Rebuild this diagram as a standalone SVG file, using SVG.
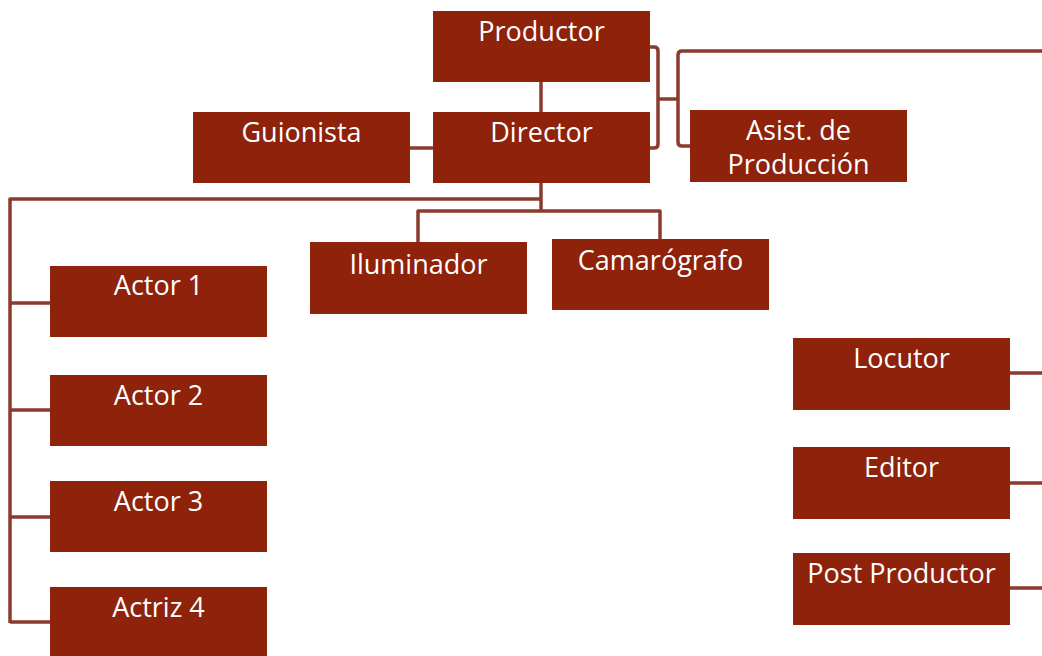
<svg xmlns="http://www.w3.org/2000/svg" width="1042" height="656" viewBox="0 0 1042 656">
<style>
.box{fill:#8E220B}
.t{font-family:"Open Sans","Noto Sans","DejaVu Sans",sans-serif;font-size:27px;fill:#ffffff;text-anchor:middle}
.c{fill:none;stroke:#8A3B2E;stroke-width:3.5;stroke-linejoin:round}
</style>
<rect width="1042" height="656" fill="#ffffff"/>
<g id="connectors">
<path class="c" d="M541 82V112"/>
<path class="c" d="M410 148H433"/>
<path class="c" d="M541 183V211"/>
<path class="c" d="M541 199H10V623"/>
<path class="c" d="M10 303H50M10 410H50M10 517H50M10 622H50"/>
<path class="c" d="M418 242V211H660V239"/>
<path class="c" d="M650 47H654Q658 47 658 51V144Q658 148 654 148H650M658 99H678"/>
<path class="c" d="M1042 51H682Q678 51 678 55V142Q678 146 682 146H690"/>
<path class="c" d="M1010 373H1042M1010 483H1042M1010 588H1042"/>
</g>
<g id="productor"><rect class="box" x="433" y="11" width="217" height="71"/><text class="t" x="541.5" y="41">Productor</text></g>
<g id="director"><rect class="box" x="433" y="112" width="217" height="71"/><text class="t" x="541.5" y="142">Director</text></g>
<g id="guionista"><rect class="box" x="193" y="112" width="217" height="71"/><text class="t" x="301.5" y="142">Guionista</text></g>
<g id="asistente"><rect class="box" x="690" y="110" width="217" height="72"/><text class="t" x="798.5" y="140">Asist. de</text><text class="t" x="798.5" y="174">Producción</text></g>
<g id="iluminador"><rect class="box" x="310" y="242" width="217" height="72"/><text class="t" x="418.5" y="274">Iluminador</text></g>
<g id="camarografo"><rect class="box" x="552" y="239" width="217" height="71"/><text class="t" x="660.5" y="270">Camarógrafo</text></g>
<g id="actor1"><rect class="box" x="50" y="266" width="217" height="71"/><text class="t" x="158.5" y="295">Actor 1</text></g>
<g id="actor2"><rect class="box" x="50" y="375" width="217" height="71"/><text class="t" x="158.5" y="405">Actor 2</text></g>
<g id="actor3"><rect class="box" x="50" y="481" width="217" height="71"/><text class="t" x="158.5" y="511">Actor 3</text></g>
<g id="actriz4"><rect class="box" x="50" y="587" width="217" height="71"/><text class="t" x="158.5" y="617">Actriz 4</text></g>
<g id="locutor"><rect class="box" x="793" y="338" width="217" height="72"/><text class="t" x="901.5" y="368">Locutor</text></g>
<g id="editor"><rect class="box" x="793" y="447" width="217" height="72"/><text class="t" x="901.5" y="477">Editor</text></g>
<g id="postproductor"><rect class="box" x="793" y="553" width="217" height="72"/><text class="t" x="901.5" y="583">Post Productor</text></g>
</svg>
